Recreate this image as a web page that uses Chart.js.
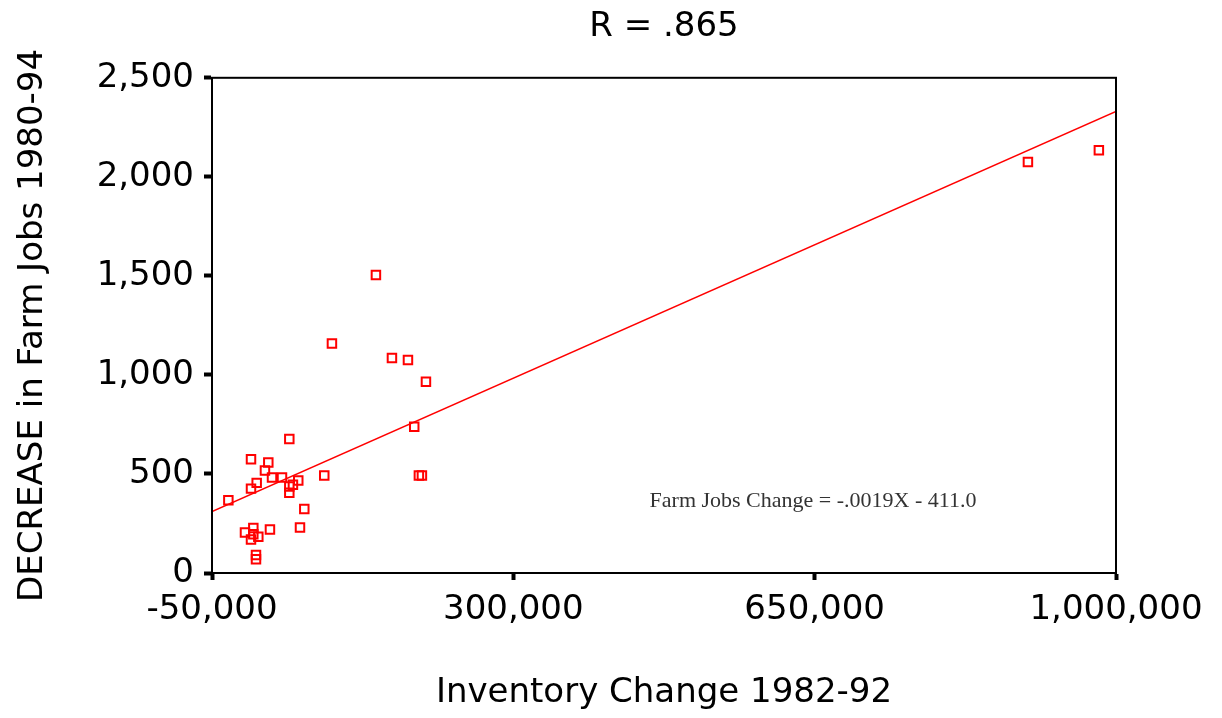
<!DOCTYPE html>
<html>
<head>
<meta charset="utf-8">
<script src="https://cdn.jsdelivr.net/npm/chart.js@4/dist/chart.umd.min.js"></script>
<style>
    body { margin: 0; background: #fff; }
</style>
</head>
<body>
<canvas id="canvas1" width="1222" height="718"></canvas>
<script>
'use strict';

// Inventory Change 1982-92 (x) vs DECREASE in Farm Jobs 1980-94 (y)
const invChange = [
    140400, 89300, 159000, 177600, 198500, 184900, 190300, 193800,
    39800, -4700, 15400, 11500, 19700, 31300, 1900, -4700,
    50200, 39800, 44000, 39800, 80400, -31000, 57200, 52200,
    17300, -11700, -2000, -2000, 3800, -4700, 1100, 1100,
    897700, 980100
];
const jobDecrease = [
    1504, 1159, 1086, 1075, 966, 738, 492, 492,
    677, 574, 558, 518, 482, 482, 455, 426,
    467, 437, 445, 405, 492, 367, 323, 230,
    220, 205, 227, 196, 183, 169, 91, 70,
    2075, 2134
];

// fitted line end points
const fitX = [-50000, 1000000];
const fitY = [310, 2330];

const chartTitle = 'R = .865';
const xTitle = 'Inventory Change 1982-92';
const yTitle = 'DECREASE in Farm Jobs 1980-94';
const fitLabel = 'Farm Jobs Change = -.0019X - 411.0';

const sans = '"DejaVu Sans", sans-serif';

let canvas1 = document.querySelector('#canvas1');

// box around the plot area and the regression equation
const frame = {
    id: 'frame',
    afterDraw(chart) {
        let ctx = chart.ctx;
        let a = chart.chartArea;
        ctx.save();
        ctx.strokeStyle = '#000';
        ctx.lineWidth = 2;
        ctx.strokeRect(a.left, a.top, a.right - a.left, a.bottom - a.top);
        ctx.fillStyle = '#333';
        ctx.font = '22px "Liberation Serif", serif';
        ctx.textAlign = 'center';
        ctx.textBaseline = 'middle';
        ctx.fillText(fitLabel, 813, 501);
        ctx.restore();
    }
};

let chart1 = new Chart(canvas1, {
    type: 'scatter',
    data: {
        datasets: [
            {
                label: 'Counties',
                data: invChange.map((x, i) => ({ x: x, y: jobDecrease[i] })),
                pointStyle: 'rect',
                pointRadius: 6,
                borderWidth: 2,
                borderColor: '#ff0000',
                backgroundColor: 'rgba(0,0,0,0)',
            },
            {
                label: 'Fit',
                data: fitX.map((x, i) => ({ x: x, y: fitY[i] })),
                showLine: true,
                pointRadius: 0,
                borderWidth: 1.5,
                borderColor: '#ff0000',
            },
        ],
    },
    options: {
        responsive: false,
        animation: false,
        layout: { padding: { left: 0, right: 106, top: 0, bottom: 0 } },
        plugins: {
            legend: { display: false },
            tooltip: { enabled: false },
            title: {
                display: true,
                text: chartTitle,
                fullSize: false,
                color: '#000',
                font: { family: sans, size: 34, weight: 'normal' },
                padding: { top: 7, bottom: 30 },
            },
        },
        scales: {
            x: {
                type: 'linear',
                min: -50000,
                max: 1000000,
                afterFit: s => { s.height = 145; },
                border: { display: true, color: '#000', width: 2 },
                grid: { drawOnChartArea: false, drawTicks: true, tickLength: 7, tickWidth: 4, tickColor: '#000' },
                ticks: {
                    stepSize: 350000,
                    autoSkip: false,
                    maxRotation: 0,
                    padding: 10,
                    color: '#000',
                    font: { family: sans, size: 34 },
                },
                title: {
                    display: true,
                    text: xTitle,
                    color: '#000',
                    font: { family: sans, size: 34 },
                    padding: { top: 0, bottom: 4 },
                },
            },
            y: {
                min: 0,
                max: 2500,
                afterFit: s => { s.width = 212; },
                border: { display: true, color: '#000', width: 2 },
                grid: { drawOnChartArea: false, drawTicks: true, tickLength: 8, tickWidth: 4, tickColor: '#000' },
                ticks: {
                    stepSize: 500,
                    padding: 10,
                    color: '#000',
                    font: { family: sans, size: 34 },
                },
                title: {
                    display: true,
                    text: yTitle,
                    color: '#000',
                    font: { family: sans, size: 34 },
                    padding: { top: 13, bottom: 0 },
                },
            },
        },
    },
    plugins: [frame],
});
</script>
</body>
</html>
